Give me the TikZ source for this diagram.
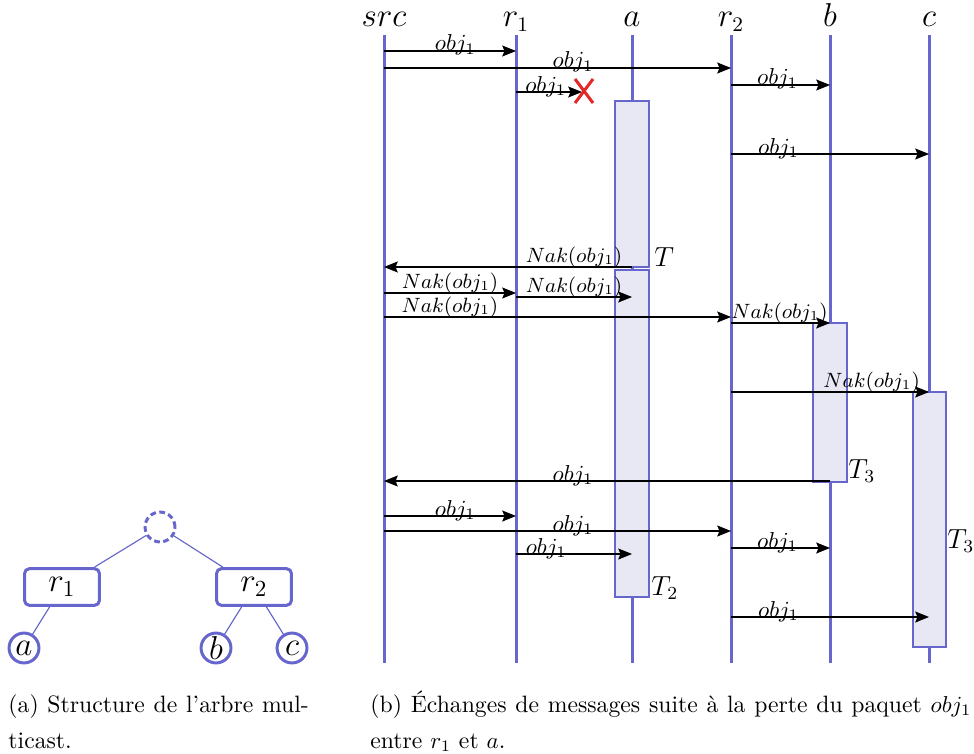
\documentclass[tikz,border=0pt]{standalone}
\usepackage{amsmath,amssymb}
\usetikzlibrary{arrows.meta}
\definecolor{figV}{RGB}{102,102,204}
\definecolor{figL}{RGB}{232,232,244}
\definecolor{figR}{RGB}{228,40,40}
\begin{document}
\begin{tikzpicture}[x=0.4348pt,y=-0.4348pt,>={Stealth[length=6pt,width=4.8pt,inset=1pt]},
  hdr/.style={font=\fontsize{13.5}{15}\selectfont,anchor=base},
  life/.style={figV,line width=1.3pt},
  actbox/.style={draw=figV,fill=figL,line width=0.5pt},
  msg/.style={->,line width=0.45pt},
  lbl/.style={font=\fontsize{10}{12}\selectfont,anchor=base,inner sep=0pt},
  nak/.style={font=\fontsize{8.7}{10}\selectfont,anchor=base,inner sep=0pt,yshift=2pt},
  tmr/.style={font=\fontsize{12}{14}\selectfont,anchor=base west,inner sep=0pt},
  rtr/.style={draw=figV,line width=1.3pt,rounded corners=2.2pt,minimum width=32.6pt,minimum height=16pt,inner sep=0pt,font=\fontsize{14.5}{16}\selectfont},
  leaf/.style={circle,draw=figV,line width=1.3pt,minimum size=13pt,inner sep=0pt,font=\fontsize{14}{16}\selectfont},
  tedge/.style={figV,line width=0.5pt},
  capt/.style={anchor=base west,inner sep=0pt,align=justify,font=\fontsize{10.3}{15.65}\selectfont}]
\useasboundingbox (0,0) rectangle (974,753);
% (a) arbre multicast
\node[leaf,dash pattern=on 2.5pt off 1.5pt] (tr0) at (160,527) {};
\node[rtr] (tr1) at (62,587) {$r_1$};
\node[rtr] (tr2) at (254,587) {$r_2$};
\node[leaf] (ta) at (24,648) {$a$};
\node[leaf] (tb) at (216,648) {$b$};
\node[leaf] (tc) at (292,648) {$c$};
\draw[tedge] (tr0)--(tr1) (tr0)--(tr2) (tr1)--(ta) (tr2)--(tb) (tr2)--(tc);
% (b) echanges
\node[hdr] (src) at (384,27) {$src$};
\node[hdr] (r1) at (516,27) {$r_1$};
\node[hdr] (a) at (632,27) {$a$};
\node[hdr] (r2) at (731,27) {$r_2$};
\node[hdr] (b) at (830,27) {$b$};
\node[hdr] (c) at (929,27) {$c$};
\foreach \n in {src,r1,a,r2,b,c} \draw[life] (\n |- 0,35) -- (\n |- 0,663);
\draw[actbox] (615,101) rectangle (649,267);
\draw[actbox] (615,270) rectangle (649,597);
\draw[actbox] (813,323) rectangle (847,482);
\draw[actbox] (913,392) rectangle (946,647);
\node[tmr] (tA) at (654,266) {$T$};
\node[tmr] (tB) at (651,595) {$T_2$};
\node[tmr] (tC) at (848,478) {$T_3$};
\node[tmr] (tD) at (947,548) {$T_3$};
\coordinate (lost) at (582,92);
\draw[msg] (src |- 0,51) -- node[lbl,pos=.54]{$obj_1$} (r1 |- 0,51);
\draw[msg] (src |- 0,68) -- node[lbl,pos=.545]{$obj_1$} (r2 |- 0,68);
\draw[msg] (r1 |- 0,92) -- node[lbl,pos=.45]{$obj_1$} (lost);
\draw[figR,line width=1.3pt] (lost) ++(-7,-13) -- ++(18,24) (lost) ++(11,-13) -- ++(-18,24);
\draw[msg] (r2 |- 0,85) -- node[lbl,pos=.47]{$obj_1$} (b |- 0,85);
\draw[msg] (r2 |- 0,154) -- node[lbl,pos=.24]{$obj_1$} (c |- 0,154);
\draw[msg] (a |- 0,267) -- node[nak,pos=.234]{$Nak(obj_1)$} (src |- 0,267);
\draw[msg] (src |- 0,293) -- node[nak,pos=.5]{$Nak(obj_1)$} (r1 |- 0,293);
\draw[msg] (r1 |- 0,297) -- node[nak,pos=.5]{$Nak(obj_1)$} (a |- 0,297);
\draw[msg] (src |- 0,317) -- node[nak,pos=.19]{$Nak(obj_1)$} (r2 |- 0,317);
\draw[msg] (r2 |- 0,323) -- node[nak,pos=.49]{$Nak(obj_1)$} (b |- 0,323);
\draw[msg] (r2 |- 0,392) -- node[nak,pos=.71]{$Nak(obj_1)$} (c |- 0,392);
\draw[msg] (b |- 0,481) -- node[lbl,pos=.576]{$obj_1$} (src |- 0,481);
\draw[msg] (src |- 0,516) -- node[lbl,pos=.54]{$obj_1$} (r1 |- 0,516);
\draw[msg] (src |- 0,531) -- node[lbl,pos=.545]{$obj_1$} (r2 |- 0,531);
\draw[msg] (r1 |- 0,554) -- node[lbl,pos=.26]{$obj_1$} (a |- 0,554);
\draw[msg] (r2 |- 0,548) -- node[lbl,pos=.47]{$obj_1$} (b |- 0,548);
\draw[msg] (r2 |- 0,617) -- node[lbl,pos=.24]{$obj_1$} (c |- 0,617);
% legendes
\node[capt,text width=130.6pt] (capA) at (8,712) {(a) Structure de l'arbre mul-\linebreak ticast.};
\node[capt,text width=261.3pt] (capB) at (370,712) {(b) Échanges de messages suite à la perte du paquet $obj_1$\linebreak entre $r_1$ et $a$.};
\end{tikzpicture}
\end{document}
